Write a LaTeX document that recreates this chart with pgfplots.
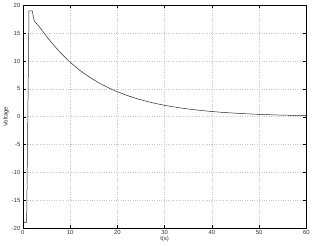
\documentclass[border=0pt]{standalone}
\usepackage{pgfplots}
\pgfplotsset{compat=1.18}
\usepackage{fontspec}
\setmainfont{Liberation Sans}
\begin{document}
\begin{tikzpicture}
\begin{axis}[
  scale only axis,
  width=284bp, height=223bp,
  xmin=0, xmax=60, ymin=-20, ymax=20,
  xtick={0,10,...,60}, ytick={-20,-15,...,20},
  tick align=inside, tick pos=both,
  major tick length=3bp,
  grid=major,
  grid style={dotted, gray!45, line width=0.5pt},
  axis line style={black, line width=0.5pt},
  tick style={black, line width=0.4pt},
  ticklabel style={font=\fontsize{6}{7}\selectfont, black!80},
  label style={font=\fontsize{6}{7}\selectfont, black!80},
  /pgf/number format/assume math mode=true,
  xlabel={t(s)}, ylabel={Voltage},
  xlabel style={yshift=5bp},
  ylabel style={yshift=-4bp},
  xticklabel style={yshift=1bp},
  yticklabel style={xshift=1bp},
]
\addplot[black!85, line width=0.5pt] coordinates {
(0,-19) (0.8,-19) (1.3,19) (2.0,19) (2.4,17.2) (3,16.65) (4,15.6) (5,14.45) (6,13.40)
(8,11.46) (10,9.8) (12,8.38) (14,7.17) (16,6.13) (18,5.25) (20,4.49)
(22,3.84) (24,3.28) (26,2.81) (28,2.40) (30,2.05) (32,1.76) (34,1.50)
(36,1.29) (38,1.10) (40,0.94) (42,0.80) (44,0.69) (46,0.59) (48,0.50)
(50,0.43) (52,0.37) (54,0.31) (56,0.27) (58,0.23) (60,0.20)
};
\end{axis}
\end{tikzpicture}
\end{document}
